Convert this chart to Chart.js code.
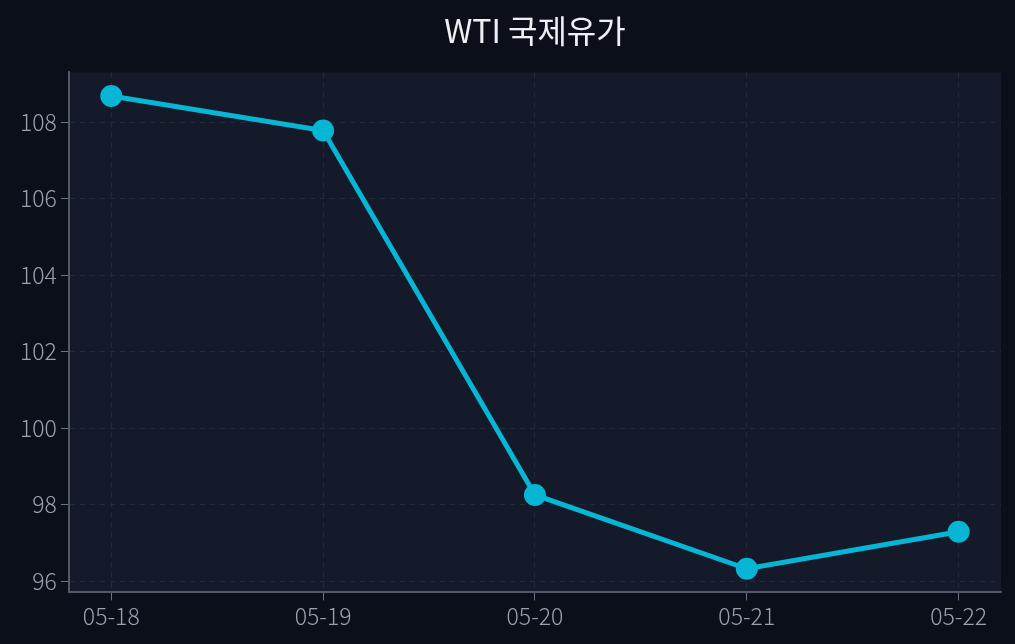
<!DOCTYPE html>
<html>
<head>
<meta charset="utf-8">
<script src="https://cdn.jsdelivr.net/npm/chart.js@4"></script>
<style>
  html, body { margin: 0; padding: 0; background: #0b0f19; }
  #wrap { width: 1015px; height: 644px; }
</style>
</head>
<body>
<div id="wrap"><canvas id="oilChart"></canvas></div>
<script>
const dates = ['05-18', '05-19', '05-20', '05-21', '05-22'];
const wtiPrices = [108.68, 107.78, 98.25, 96.32, 97.29];
const yTicks = [96, 98, 100, 102, 104, 106, 108];

// fond de la zone de tracé
const plotBg = {
  id: 'plotBg',
  beforeDraw(chart) {
    const { ctx, chartArea: a } = chart;
    ctx.save();
    ctx.fillStyle = '#141a29';
    ctx.fillRect(a.left, a.top, a.right - a.left, a.bottom - a.top);
    ctx.restore();
  }
};

const lo = Math.min(...wtiPrices), hi = Math.max(...wtiPrices);
const pad = (hi - lo) * 0.05;

Chart.defaults.font.family = "'Noto Sans CJK KR', 'Noto Sans', sans-serif";

new Chart(document.getElementById('oilChart').getContext('2d'), {
  type: 'line',
  data: {
    datasets: [{
      label: 'WTI',
      data: wtiPrices.map((v, i) => ({ x: i, y: v })),
      borderColor: '#06b6d4',
      backgroundColor: '#06b6d4',
      borderWidth: 5,
      pointRadius: 8.5,
      pointHoverRadius: 8.5,
      tension: 0
    }]
  },
  options: {
    responsive: true,
    maintainAspectRatio: false,
    animation: false,
    layout: { padding: { left: 16, right: 14, top: 4, bottom: 12 } },
    plugins: {
      legend: { display: false },
      tooltip: { enabled: false },
      title: {
        display: true,
        text: 'WTI 국제유가',
        color: '#eef0f4',
        fullSize: false,
        font: { size: 32, weight: 'normal' },
        padding: { top: 8, bottom: 22 }
      }
    },
    scales: {
      x: {
        type: 'linear',
        min: -0.2,
        max: dates.length - 0.8,
        afterBuildTicks: axis => { axis.ticks = dates.map((d, i) => ({ value: i })); },
        ticks: {
          color: '#9aa1ad',
          font: { size: 23, weight: '300' },
          padding: 2,
          callback: v => dates[v]
        },
        grid: {
          color: '#242a3a',
          tickColor: '#6b7280',
          tickLength: 8
        },
        border: { color: '#525968', width: 2, dash: [5, 5] }
      },
      y: {
        min: lo - pad,
        max: hi + pad,
        afterBuildTicks: axis => { axis.ticks = yTicks.map(v => ({ value: v })); },
        ticks: {
          color: '#9aa1ad',
          font: { size: 23, weight: '300' },
          padding: 4
        },
        grid: {
          color: '#242a3a',
          tickColor: '#6b7280',
          tickLength: 8
        },
        border: { color: '#525968', width: 2, dash: [5, 5] }
      }
    }
  },
  plugins: [plotBg]
});
</script>
</body>
</html>
